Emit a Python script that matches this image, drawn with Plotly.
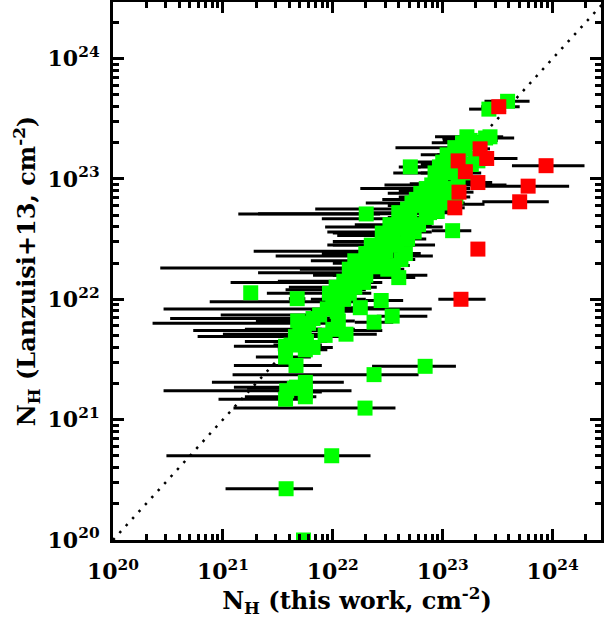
import numpy as np
import plotly.graph_objects as go

# ---- data: log10 N_H values (this work = x, Lanzuisi+13 = y), x error-bar ends ----
green_logx = [23.59, 23.42, 23.39, 23.22, 23.18, 23.25, 23.11, 23.04, 23.00, 22.97,
              23.07, 22.93, 22.90, 22.85, 22.80, 22.76, 22.72, 22.82, 22.93, 22.68,
              22.64, 22.62, 22.57, 22.55, 22.50, 22.47, 22.44, 22.40, 22.36, 22.32,
              22.28, 22.25, 22.22, 22.17, 22.12, 22.05, 22.00, 21.95, 21.88, 21.82,
              21.78, 21.74, 21.66, 21.62, 22.60, 22.66, 22.62, 22.55, 22.50, 22.78,
              22.85, 22.95, 23.05, 23.12, 23.02, 23.09, 23.14, 23.20, 23.26, 23.30,
              22.705, 22.25, 22.44, 22.375, 22.54, 22.12, 22.00, 22.05, 22.04, 21.93,
              21.82, 21.76, 21.75, 21.57, 21.57, 21.68, 21.70, 21.665, 21.67, 21.57,
              21.75, 21.75, 21.75, 21.58, 21.65, 21.253, 21.676, 22.304, 22.84, 22.375,
              22.293, 21.99, 21.575, 21.733, 22.45, 22.52, 22.60, 22.66, 22.70, 22.35,
              22.30, 22.20, 22.15, 22.10, 22.03, 21.97, 22.10, 22.15, 22.20, 22.30,
              22.40, 22.45, 22.85, 22.90, 22.98, 23.05, 23.10, 23.15, 23.20, 23.28,
              22.58, 22.68, 22.74, 22.48, 22.38, 22.28, 22.88, 22.98, 23.08, 23.43, 23.32]
green_logy = [23.645, 23.58, 23.34, 23.35, 23.30, 23.32, 23.26, 23.20, 23.14, 23.10,
              23.12, 23.05, 22.95, 22.92, 22.88, 22.83, 22.80, 22.78, 22.79, 22.75,
              22.71, 22.67, 22.60, 22.56, 22.53, 22.48, 22.45, 22.40, 22.36, 22.30,
              22.26, 22.22, 22.20, 22.14, 22.08, 22.02, 21.98, 21.92, 21.87, 21.84,
              21.80, 21.74, 21.69, 21.62, 22.18, 22.38, 22.33, 22.28, 22.25, 22.62,
              22.68, 22.73, 22.80, 22.85, 22.90, 22.57, 22.98, 23.05, 23.12, 23.17,
              23.10, 21.93, 21.99, 21.81, 21.86, 21.71, 21.75, 21.82, 21.90, 21.70,
              21.60, 21.65, 21.58, 21.52, 21.61, 21.82, 21.75, 21.45, 21.27, 21.17,
              21.31, 21.23, 21.19, 21.24, 21.26, 22.054, 22.005, 22.709, 21.443, 21.374,
              21.096, 20.70, 20.426, 20.00, 22.55, 22.62, 22.72, 22.60, 22.68, 22.45,
              22.38, 22.32, 22.25, 22.15, 22.10, 22.05, 22.00, 22.05, 22.10, 22.20,
              22.30, 22.35, 22.85, 22.90, 22.96, 23.05, 23.10, 23.20, 23.25, 23.30,
              22.45, 22.50, 22.56, 22.40, 22.27, 22.14, 22.72, 22.82, 22.92, 23.35, 23.15]
green_logxlo = [23.38, 23.24, 22.996, 22.93, 22.90, 23.00, 22.57, 22.80, 22.70, 22.60,
                22.80, 22.55, 22.47, 22.25, 22.50, 22.45, 22.30, 22.50, 22.75, 21.84,
                21.32, 21.90, 21.93, 21.95, 22.04, 22.00, 21.95, 21.28, 21.48, 22.00,
                20.43, 21.32, 21.82, 21.07, 21.57, 21.90, 20.88, 20.46, 20.98, 20.52,
                20.36, 20.73, 20.77, 21.46, 22.10, 22.30, 22.30, 22.20, 22.20, 22.60,
                22.70, 22.80, 22.90, 23.00, 22.85, 22.90, 23.00, 23.05, 23.10, 23.20,
                22.65, 22.10, 22.30, 22.20, 22.40, 21.00, 21.70, 21.80, 21.80, 21.60,
                21.50, 21.20, 21.50, 21.30, 21.10, 21.30, 21.20, 21.10, 21.10, 20.96,
                20.90, 21.50, 21.20, 20.46, 21.22, 21.20, 21.60, 21.14, 22.357, 21.088,
                21.096, 20.486, 21.024, 21.70, 22.00, 22.20, 22.30, 22.40, 22.50, 22.00,
                21.90, 21.80, 21.70, 21.50, 21.60, 21.40, 21.80, 21.90, 22.00, 22.00,
                22.10, 22.20, 22.60, 22.60, 22.70, 22.80, 22.90, 22.95, 23.00, 23.10,
                22.40, 22.50, 22.55, 22.30, 22.20, 22.10, 22.70, 22.80, 22.90, 23.30, 23.20]
green_logxhi = [23.79, 23.52, 23.65, 23.45, 23.40, 23.50, 23.35, 23.30, 23.25, 23.20,
                23.30, 23.20, 23.58, 23.10, 23.00, 23.00, 22.95, 23.05, 23.38, 22.90,
                22.85, 22.80, 23.00, 22.70, 22.70, 22.65, 22.93, 22.60, 22.91, 22.50,
                22.45, 22.40, 22.86, 22.35, 22.30, 22.20, 22.20, 22.90, 22.10, 22.05,
                22.00, 22.45, 22.09, 21.90, 22.75, 22.80, 22.75, 22.70, 22.65, 22.90,
                23.00, 23.10, 23.20, 23.25, 23.20, 23.26, 23.30, 23.35, 23.40, 23.45,
                22.80, 22.40, 22.64, 22.55, 22.86, 22.40, 22.20, 22.20, 22.20, 22.10,
                22.00, 21.95, 21.95, 21.80, 21.80, 21.90, 21.90, 21.90, 21.80, 21.80,
                22.10, 21.90, 21.85, 22.17, 21.80, 21.30, 21.75, 22.43, 23.12, 22.78,
                22.57, 22.343, 21.82, 21.76, 22.70, 22.75, 22.80, 22.85, 22.90, 22.60,
                22.50, 22.40, 22.35, 22.30, 22.25, 22.20, 22.30, 22.35, 22.40, 22.50,
                22.55, 22.60, 23.00, 23.05, 23.10, 23.20, 23.25, 23.30, 23.35, 23.45,
                22.75, 22.85, 22.90, 22.65, 22.55, 22.45, 23.05, 23.15, 23.25, 23.55, 23.45]

red_logx = [23.51, 23.94, 23.777, 23.70, 23.32, 23.166, 23.34, 23.40, 23.14, 23.206, 23.32, 23.148, 23.11]
red_logy = [23.60, 23.11, 22.94, 22.81, 22.417, 22.00, 23.25, 23.17, 23.15, 23.06, 22.97, 22.89, 22.76]
red_logxlo = [23.35, 23.63, 23.35, 23.36, 23.30, 22.96, 23.31, 23.25, 23.00, 23.10, 23.15, 23.05, 23.00]
red_logxhi = [23.70, 24.29, 24.15, 23.965, 23.34, 23.39, 23.43, 23.68, 23.25, 23.30, 23.45, 23.28, 23.20]

axis_range_log = [20.0, 24.44]
yaxis_range_log = [20.0, 24.47]
tick_exponents = [20, 21, 22, 23, 24]

# ---- build ----
def lin(a):
    return 10.0 ** np.asarray(a, dtype=float)

gx, gy, glo, ghi = lin(green_logx), lin(green_logy), lin(green_logxlo), lin(green_logxhi)
rx, ry, rlo, rhi = lin(red_logx), lin(red_logy), lin(red_logxlo), lin(red_logxhi)

all_x = np.concatenate([gx, rx])
all_y = np.concatenate([gy, ry])
all_plus = np.concatenate([ghi - gx, rhi - rx])
all_minus = np.concatenate([gx - glo, rx - rlo])

fig = go.Figure()

# 1:1 dotted line
line_ends = [10 ** axis_range_log[0], 10 ** yaxis_range_log[1]]
fig.add_trace(go.Scatter(x=line_ends, y=line_ends, mode="lines",
                         line=dict(color="black", width=2.5, dash="2.5px,7px"),
                         hoverinfo="skip", showlegend=False))

# error bars
fig.add_trace(go.Scatter(x=all_x, y=all_y, mode="markers",
                         marker=dict(size=2, color="rgba(0,0,0,0)"),
                         error_x=dict(type="data", symmetric=False, array=all_plus,
                                      arrayminus=all_minus, color="black",
                                      thickness=3, width=0),
                         hoverinfo="skip", showlegend=False))

fig.add_trace(go.Scatter(x=gx, y=gy, mode="markers",
                         marker=dict(symbol="square", size=15, color="#00ff00",
                                     line=dict(width=0)),
                         showlegend=False))
fig.add_trace(go.Scatter(x=rx, y=ry, mode="markers",
                         marker=dict(symbol="square", size=15, color="#ff0000",
                                     line=dict(width=0)),
                         showlegend=False))

tickvals = [10.0 ** e for e in tick_exponents]
ticktext = ["10<sup>%d</sup>" % e for e in tick_exponents]
font_fam = "DejaVu Serif"
tickfont = dict(family=font_fam, size=22, color="black", weight="bold")
titlefont = dict(family=font_fam, size=24, color="black", weight="bold")

common = dict(type="log", tickvals=tickvals, ticktext=ticktext, ticks="inside",
              ticklen=11, tickwidth=2.5, tickcolor="black", showline=True,
              linewidth=3, linecolor="black", mirror="ticks", showgrid=False,
              zeroline=False, tickfont=tickfont, automargin=False,
              minor=dict(ticks="inside", ticklen=6, tickwidth=2.5, tickcolor="black",
                         dtick="D1", showgrid=False))

fig.update_xaxes(range=axis_range_log,
                 title=dict(text="N<sub>H</sub> (this work, cm<sup>-2</sup>)",
                            font=titlefont, standoff=2),
                 ticklabelstandoff=10, **common)
fig.update_yaxes(range=yaxis_range_log,
                 title=dict(text="N<sub>H</sub> (Lanzuisi+13, cm<sup>-2</sup>)",
                            font=titlefont, standoff=6),
                 ticklabelstandoff=6, **common)

fig.update_layout(width=611, height=618,
                  margin=dict(l=113, r=10, t=2, b=78, autoexpand=False),
                  paper_bgcolor="white", plot_bgcolor="white",
                  showlegend=False, hovermode=False)

fig.write_html("out.html", config={"displayModeBar": False},
               post_script="document.body.style.margin='0px';document.body.style.overflow='hidden';")
